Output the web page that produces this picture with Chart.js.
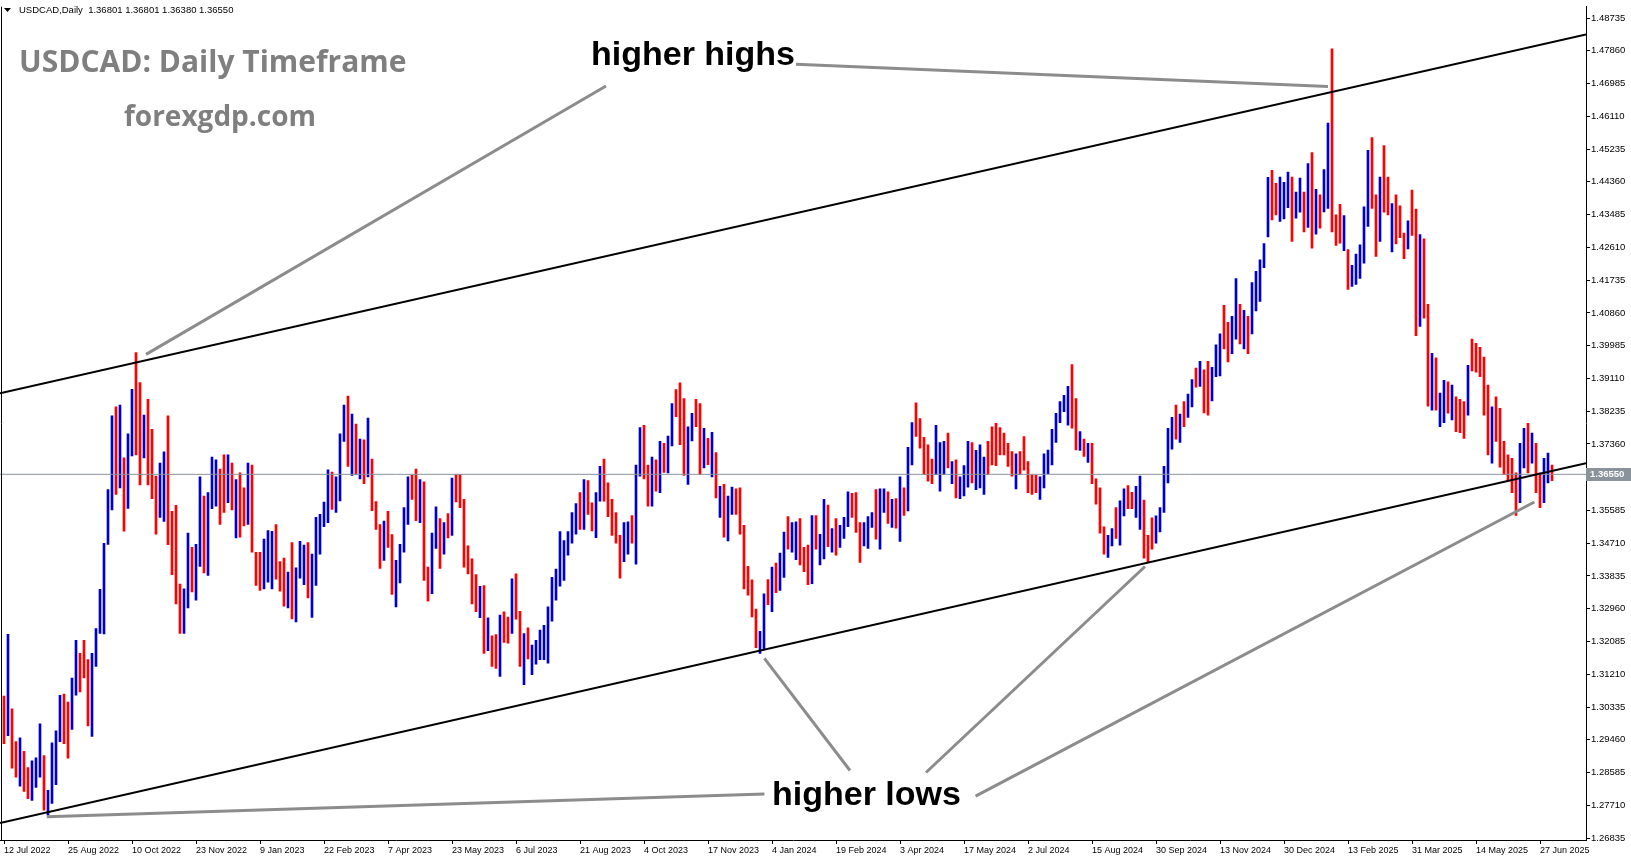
<!DOCTYPE html>
<html>
<head>
<meta charset="utf-8">
<script src="https://cdn.jsdelivr.net/npm/chart.js@4.4.1/dist/chart.umd.min.js"></script>
<style>
  html, body { margin: 0; padding: 0; background: #fff; }
  #wrap { width: 1631px; height: 861px; position: relative; }
</style>
</head>
<body>
<div id="wrap"><canvas id="chart"></canvas></div>
<script>
// last daily bar: open, high, low, close
const lastQuote = [1.36801, 1.36801, 1.36380, 1.36550];

// price axis labels (the one hidden behind the bid label is left out, as in MT4)
const priceTicks = [1.48735, 1.47860, 1.46985, 1.46110, 1.45235, 1.44360, 1.43485, 1.42610,
  1.41735, 1.40860, 1.39985, 1.39110, 1.38235, 1.37360, 1.35585, 1.34710, 1.33835, 1.32960,
  1.32085, 1.31210, 1.30335, 1.29460, 1.28585, 1.27710, 1.26835];

// date labels, one every 16 bars (each bar here = 2 trading days)
const dateLabels = ['12 Jul 2022', '25 Aug 2022', '10 Oct 2022', '23 Nov 2022', '9 Jan 2023',
  '22 Feb 2023', '7 Apr 2023', '23 May 2023', '6 Jul 2023', '21 Aug 2023', '4 Oct 2023',
  '17 Nov 2023', '4 Jan 2024', '19 Feb 2024', '3 Apr 2024', '17 May 2024', '2 Jul 2024',
  '15 Aug 2024', '30 Sep 2024', '13 Nov 2024', '30 Dec 2024', '13 Feb 2025', '31 Mar 2025',
  '14 May 2025', '27 Jun 2025'];
const barsPerLabel = 16;

const barHighs = [
  1.3063,1.3228,1.3029,1.2941,1.2951,1.2915,1.2872,1.2890,1.2898,1.2989,
  1.2904,1.2811,1.2938,1.2970,1.3065,1.3068,1.3047,1.3111,1.3212,1.3177,
  1.3212,1.3160,1.3177,1.3243,1.3348,1.3471,1.3614,1.3811,1.3835,1.3840,
  1.3699,1.3763,1.3882,1.3980,1.3900,1.3813,1.3855,1.3775,1.3650,1.3685,
  1.3715,1.3811,1.3556,1.3572,1.3362,1.3349,1.3498,1.3460,1.3468,1.3648,
  1.3597,1.3606,1.3701,1.3694,1.3669,1.3707,1.3707,1.3685,1.3641,1.3659,
  1.3619,1.3685,1.3680,1.3447,1.3447,1.3482,1.3505,1.3503,1.3521,1.3422,
  1.3431,1.3394,1.3473,1.3405,1.3476,1.3466,1.3473,1.3442,1.3540,1.3548,
  1.3581,1.3667,1.3661,1.3648,1.3763,1.3840,1.3864,1.3816,1.3789,1.3749,
  1.3747,1.3805,1.3696,1.3582,1.3521,1.3530,1.3556,1.3494,1.3425,1.3468,
  1.3566,1.3648,1.3652,1.3669,1.3641,1.3635,1.3407,1.3498,1.3568,1.3537,
  1.3526,1.3550,1.3645,1.3654,1.3654,1.3588,1.3464,1.3429,1.3387,1.3356,
  1.3358,1.3272,1.3224,1.3227,1.3279,1.3288,1.3274,1.3376,1.3389,1.3289,
  1.3230,1.3245,1.3199,1.3212,1.3239,1.3252,1.3301,1.3380,1.3402,1.3502,
  1.3478,1.3502,1.3553,1.3577,1.3606,1.3641,1.3638,1.3579,1.3606,1.3676,
  1.3696,1.3632,1.3588,1.3553,1.3492,1.3526,1.3528,1.3545,1.3680,1.3780,
  1.3786,1.3680,1.3701,1.3694,1.3743,1.3738,1.3757,1.3844,1.3881,1.3899,
  1.3857,1.3782,1.3818,1.3855,1.3844,1.3778,1.3751,1.3767,1.3713,1.3623,
  1.3628,1.3597,1.3621,1.3616,1.3619,1.3519,1.3409,1.3373,1.3295,1.3236,
  1.3336,1.3374,1.3407,1.3418,1.3445,1.3501,1.3542,1.3526,1.3528,1.3537,
  1.3460,1.3466,1.3545,1.3545,1.3495,1.3588,1.3573,1.3510,1.3537,1.3519,
  1.3540,1.3608,1.3604,1.3606,1.3526,1.3526,1.3542,1.3553,1.3614,1.3616,
  1.3616,1.3608,1.3588,1.3590,1.3648,1.3619,1.3727,1.3793,1.3846,1.3804,
  1.3754,1.3734,1.3696,1.3786,1.3740,1.3743,1.3765,1.3689,1.3694,1.3648,
  1.3678,1.3743,1.3740,1.3719,1.3734,1.3701,1.3743,1.3782,1.3791,1.3780,
  1.3765,1.3738,1.3716,1.3710,1.3716,1.3756,1.3689,1.3654,1.3652,1.3648,
  1.3710,1.3720,1.3775,1.3818,1.3849,1.3866,1.3890,1.3948,1.3857,1.3769,
  1.3749,1.3738,1.3738,1.3643,1.3619,1.3515,1.3492,1.3510,1.3566,1.3584,
  1.3616,1.3625,1.3607,1.3623,1.3650,1.3586,1.3492,1.3539,1.3544,1.3566,
  1.3676,1.3778,1.3807,1.3840,1.3816,1.3849,1.3869,1.3908,1.3939,1.3957,
  1.3934,1.3957,1.3941,1.4001,1.4030,1.4106,1.4061,1.4077,1.4178,1.4109,
  1.4093,1.4077,1.4167,1.4197,1.4228,1.4271,1.4448,1.4467,1.4432,1.4449,
  1.4435,1.4462,1.4449,1.4409,1.4446,1.4409,1.4485,1.4514,1.4416,1.4401,
  1.4469,1.4593,1.4791,1.4348,1.4376,1.4346,1.4255,1.4213,1.4243,1.4268,
  1.4369,1.4520,1.4554,1.4401,1.4449,1.4533,1.4449,1.4378,1.4401,1.4372,
  1.4299,1.4332,1.4414,1.4363,1.4295,1.4284,1.4109,1.3978,1.3966,1.3872,
  1.3906,1.3902,1.3893,1.3862,1.3855,1.3849,1.3946,1.4016,1.4005,1.3994,
  1.3968,1.3893,1.3835,1.3862,1.3831,1.3743,1.3707,1.3698,1.3659,1.3738,
  1.3778,1.3791,1.3765,1.3738,1.3659,1.3698,1.3712,1.3680
];

const barLows = [
  1.2936,1.2957,1.2870,1.2846,1.2822,1.2808,1.2789,1.2784,1.2819,1.2846,
  1.2758,1.2745,1.2776,1.2826,1.2941,1.2936,1.2897,1.2974,1.3065,1.3074,
  1.3111,1.2983,1.2955,1.3142,1.3230,1.3229,1.3468,1.3560,1.3601,1.3619,
  1.3503,1.3564,1.3704,1.3707,1.3627,1.3699,1.3627,1.3590,1.3495,1.3540,
  1.3529,1.3467,1.3387,1.3309,1.3230,1.3230,1.3298,1.3341,1.3319,1.3409,
  1.3392,1.3385,1.3563,1.3570,1.3521,1.3553,1.3579,1.3560,1.3485,1.3487,
  1.3517,1.3521,1.3447,1.3358,1.3345,1.3349,1.3367,1.3349,1.3375,1.3343,
  1.3303,1.3298,1.3269,1.3261,1.3378,1.3360,1.3325,1.3273,1.3358,1.3442,
  1.3515,1.3526,1.3561,1.3553,1.3584,1.3743,1.3676,1.3652,1.3654,1.3643,
  1.3630,1.3648,1.3558,1.3508,1.3404,1.3425,1.3460,1.3334,1.3301,1.3365,
  1.3447,1.3521,1.3588,1.3531,1.3526,1.3372,1.3316,1.3336,1.3457,1.3404,
  1.3442,1.3485,1.3492,1.3581,1.3566,1.3407,1.3389,1.3309,1.3288,1.3272,
  1.3177,1.3184,1.3142,1.3137,1.3115,1.3206,1.3204,1.3230,1.3268,1.3142,
  1.3093,1.3162,1.3120,1.3148,1.3160,1.3160,1.3151,1.3263,1.3319,1.3356,
  1.3372,1.3439,1.3471,1.3495,1.3508,1.3508,1.3548,1.3504,1.3486,1.3583,
  1.3583,1.3542,1.3492,1.3471,1.3378,1.3422,1.3442,1.3471,1.3415,1.3650,
  1.3643,1.3570,1.3570,1.3610,1.3606,1.3660,1.3659,1.3731,1.3809,1.3734,
  1.3652,1.3628,1.3744,1.3782,1.3654,1.3672,1.3681,1.3648,1.3592,1.3540,
  1.3487,1.3477,1.3548,1.3548,1.3495,1.3349,1.3332,1.3274,1.3192,1.3177,
  1.3186,1.3307,1.3288,1.3339,1.3345,1.3380,1.3455,1.3447,1.3427,1.3413,
  1.3395,1.3360,1.3363,1.3455,1.3413,1.3429,1.3462,1.3447,1.3439,1.3460,
  1.3484,1.3515,1.3540,1.3500,1.3420,1.3464,1.3457,1.3513,1.3482,1.3455,
  1.3553,1.3524,1.3513,1.3511,1.3476,1.3545,1.3557,1.3680,1.3756,1.3725,
  1.3654,1.3637,1.3630,1.3654,1.3610,1.3654,1.3672,1.3630,1.3592,1.3590,
  1.3597,1.3621,1.3632,1.3614,1.3619,1.3601,1.3654,1.3680,1.3678,1.3707,
  1.3707,1.3676,1.3650,1.3616,1.3654,1.3666,1.3606,1.3601,1.3606,1.3588,
  1.3619,1.3657,1.3680,1.3740,1.3793,1.3822,1.3786,1.3778,1.3720,1.3719,
  1.3703,1.3687,1.3630,1.3575,1.3498,1.3442,1.3433,1.3464,1.3484,1.3466,
  1.3544,1.3563,1.3563,1.3540,1.3508,1.3431,1.3422,1.3455,1.3471,1.3501,
  1.3553,1.3632,1.3722,1.3749,1.3740,1.3782,1.3807,1.3835,1.3888,1.3890,
  1.3819,1.3813,1.3851,1.3916,1.3918,1.3990,1.3955,1.3977,1.4016,1.4003,
  1.3990,1.3977,1.4030,1.4091,1.4117,1.4207,1.4289,1.4334,1.4348,1.4330,
  1.4337,1.4367,1.4277,1.4339,1.4355,1.4302,1.4314,1.4259,1.4296,1.4312,
  1.4356,1.4365,1.4302,1.4266,1.4272,1.4252,1.4149,1.4157,1.4162,1.4178,
  1.4219,1.4317,1.4365,1.4237,1.4277,1.4355,1.4348,1.4249,1.4270,1.4287,
  1.4231,1.4257,1.4293,1.4025,1.4050,1.4072,1.3837,1.3826,1.3826,1.3782,
  1.3793,1.3818,1.3800,1.3769,1.3766,1.3751,1.3813,1.3931,1.3928,1.3916,
  1.3813,1.3707,1.3685,1.3743,1.3674,1.3654,1.3637,1.3606,1.3545,1.3579,
  1.3672,1.3659,1.3685,1.3606,1.3566,1.3579,1.3632,1.3638
];

// u = bullish (blue), d = bearish (red)
const barDirs =
  'duddudduuu duuuudduud dduuuuuudu duuddudddu udddduuduu duuuddudud duddduuudd duduuuduuu ' +
  'uuduuududu dudddudduu uuddudduud ududdddddu dudduddudd uduuuuuuuu uuuududduu ddddduuduu ' +
  'ddududuudd duuddududu duuddddddu ududuuduud dduduududu uuddduuudu udududuudd ddduuududu ' +
  'uuduuudddd dddudddddu uuuuuuuddu dudddduudu udduuddduu uuududuudu dduuudduud uduuuuuddu ' +
  'uuduududud uuddduduuu uudduddudd dudduddudu ududdduddd dduddddddu ududduud';

// channel lines and arrows, as [bar index, price] end points
const upperChannel = [[-1, 1.38711], [395.5, 1.48295]];
const lowerChannel = [[-1, 1.27238], [395.5, 1.36844]];
const arrowLines = [
  [[150.5, 1.46918], [35.5, 1.39752]],
  [[198.0, 1.47501], [331.0, 1.46905]],
  [[190.1, 1.28015], [10.7, 1.27408]],
  [[211.5, 1.28640], [190.1, 1.31633]],
  [[230.5, 1.28587], [285.25, 1.34089]],
  [[242.9, 1.27957], [382.6, 1.35811]]
];
const notes = [
  { text: 'higher highs', at: [146.75, 1.4774] },
  { text: 'higher lows', at: [192.0, 1.2798] }
];

const BLUE = '#0000cc';
const RED = '#ff0000';
const dirs = barDirs.replace(/\s/g, '');

const lineSet = (pts, color, width, order) => ({
  type: 'line',
  data: pts.map(p => ({ x: p[0], y: p[1] })),
  borderColor: color,
  borderWidth: width,
  pointRadius: 0,
  fill: false,
  tension: 0,
  order: order
});

const overlay = {
  id: 'overlay',
  afterDatasetsDraw(chart) {
    const { ctx, chartArea: a, scales: { x, y } } = chart;
    ctx.save();

    // left frame
    ctx.strokeStyle = '#000';
    ctx.lineWidth = 1;
    ctx.beginPath();
    ctx.moveTo(a.left + 1.5, a.top);
    ctx.lineTo(a.left + 1.5, a.bottom);
    ctx.stroke();

    // header line
    ctx.fillStyle = '#000';
    ctx.beginPath();
    ctx.moveTo(4, 8); ctx.lineTo(11, 8); ctx.lineTo(7.5, 12); ctx.closePath();
    ctx.fill();
    ctx.font = '9.5px "Liberation Sans", Arial, sans-serif';
    ctx.textAlign = 'left';
    ctx.textBaseline = 'middle';
    ctx.fillText('USDCAD,Daily  ' + lastQuote.map(v => v.toFixed(5)).join(' '), 19, 10.5);

    // titles
    ctx.fillStyle = '#7f7f7f';
    ctx.font = 'bold 30px "Open Sans", sans-serif';
    ctx.fillText('USDCAD: Daily Timeframe', 19, 63);
    ctx.font = 'bold 28px "Open Sans", sans-serif';
    ctx.textAlign = 'center';
    ctx.fillText('forexgdp.com', 220, 118);

    // annotations
    ctx.fillStyle = '#000';
    ctx.textAlign = 'left';
    ctx.font = 'bold 34px "Liberation Sans", Arial, sans-serif';
    notes.forEach(n => {
      ctx.fillText(n.text, x.getPixelForValue(n.at[0]), y.getPixelForValue(n.at[1]));
    });

    // bid price label
    const py = Math.round(y.getPixelForValue(lastQuote[3]));
    ctx.fillStyle = '#8a929c';
    ctx.fillRect(a.right, py - 6, chart.width - a.right, 13);
    ctx.fillStyle = '#fff';
    ctx.font = 'bold 9.5px "Liberation Sans", Arial, sans-serif';
    ctx.fillText(lastQuote[3].toFixed(5), a.right + 4, py + 0.5);

    ctx.restore();
  }
};

new Chart(document.getElementById('chart'), {
  type: 'bar',
  data: {
    datasets: [
      ...arrowLines.map(l => lineSet(l, '#8c8c8c', 3, 0)),
      lineSet(upperChannel, '#000', 2, 1),
      lineSet(lowerChannel, '#000', 2, 1),
      lineSet([[-1, lastQuote[3]], [395.5, lastQuote[3]]], '#8a929c', 1, 2),
      {
        type: 'bar',
        data: barHighs.map((h, i) => ({ x: i, y: [barLows[i], h] })),
        backgroundColor: c => dirs[c.dataIndex] === 'u' ? BLUE : RED,
        borderWidth: 0,
        barThickness: 2,
        order: 3
      }
    ]
  },
  options: {
    responsive: true,
    maintainAspectRatio: false,
    devicePixelRatio: 1,
    animation: false,
    layout: { padding: 0 },
    plugins: { legend: { display: false }, tooltip: { enabled: false } },
    scales: {
      x: {
        type: 'linear',
        min: -1,
        max: 395.5,
        offset: false,
        grid: { display: true, offset: false, drawOnChartArea: false, drawTicks: true, tickLength: 4, color: '#000' },
        border: { display: true, color: '#000' },
        afterBuildTicks: s => { s.ticks = dateLabels.map((_, i) => ({ value: i * barsPerLabel })); },
        afterFit: s => { s.height = 21; },
        ticks: {
          autoSkip: false,
          maxRotation: 0,
          align: 'start',
          padding: 1,
          color: '#000',
          font: { family: '"Liberation Sans", Arial, sans-serif', size: 9 },
          callback: v => dateLabels[Math.round(v / barsPerLabel)]
        }
      },
      y: {
        type: 'linear',
        position: 'right',
        min: 1.26785,
        max: 1.49037,
        grid: { display: true, drawOnChartArea: false, drawTicks: true, tickLength: 4, color: '#000' },
        border: { display: true, color: '#000' },
        afterBuildTicks: s => { s.ticks = priceTicks.map(v => ({ value: v })); },
        afterFit: s => { s.width = 45; },
        ticks: {
          padding: 1,
          color: '#000',
          font: { family: '"Liberation Sans", Arial, sans-serif', size: 9.5 },
          callback: v => v.toFixed(5)
        }
      }
    }
  },
  plugins: [overlay]
});
</script>
</body>
</html>
